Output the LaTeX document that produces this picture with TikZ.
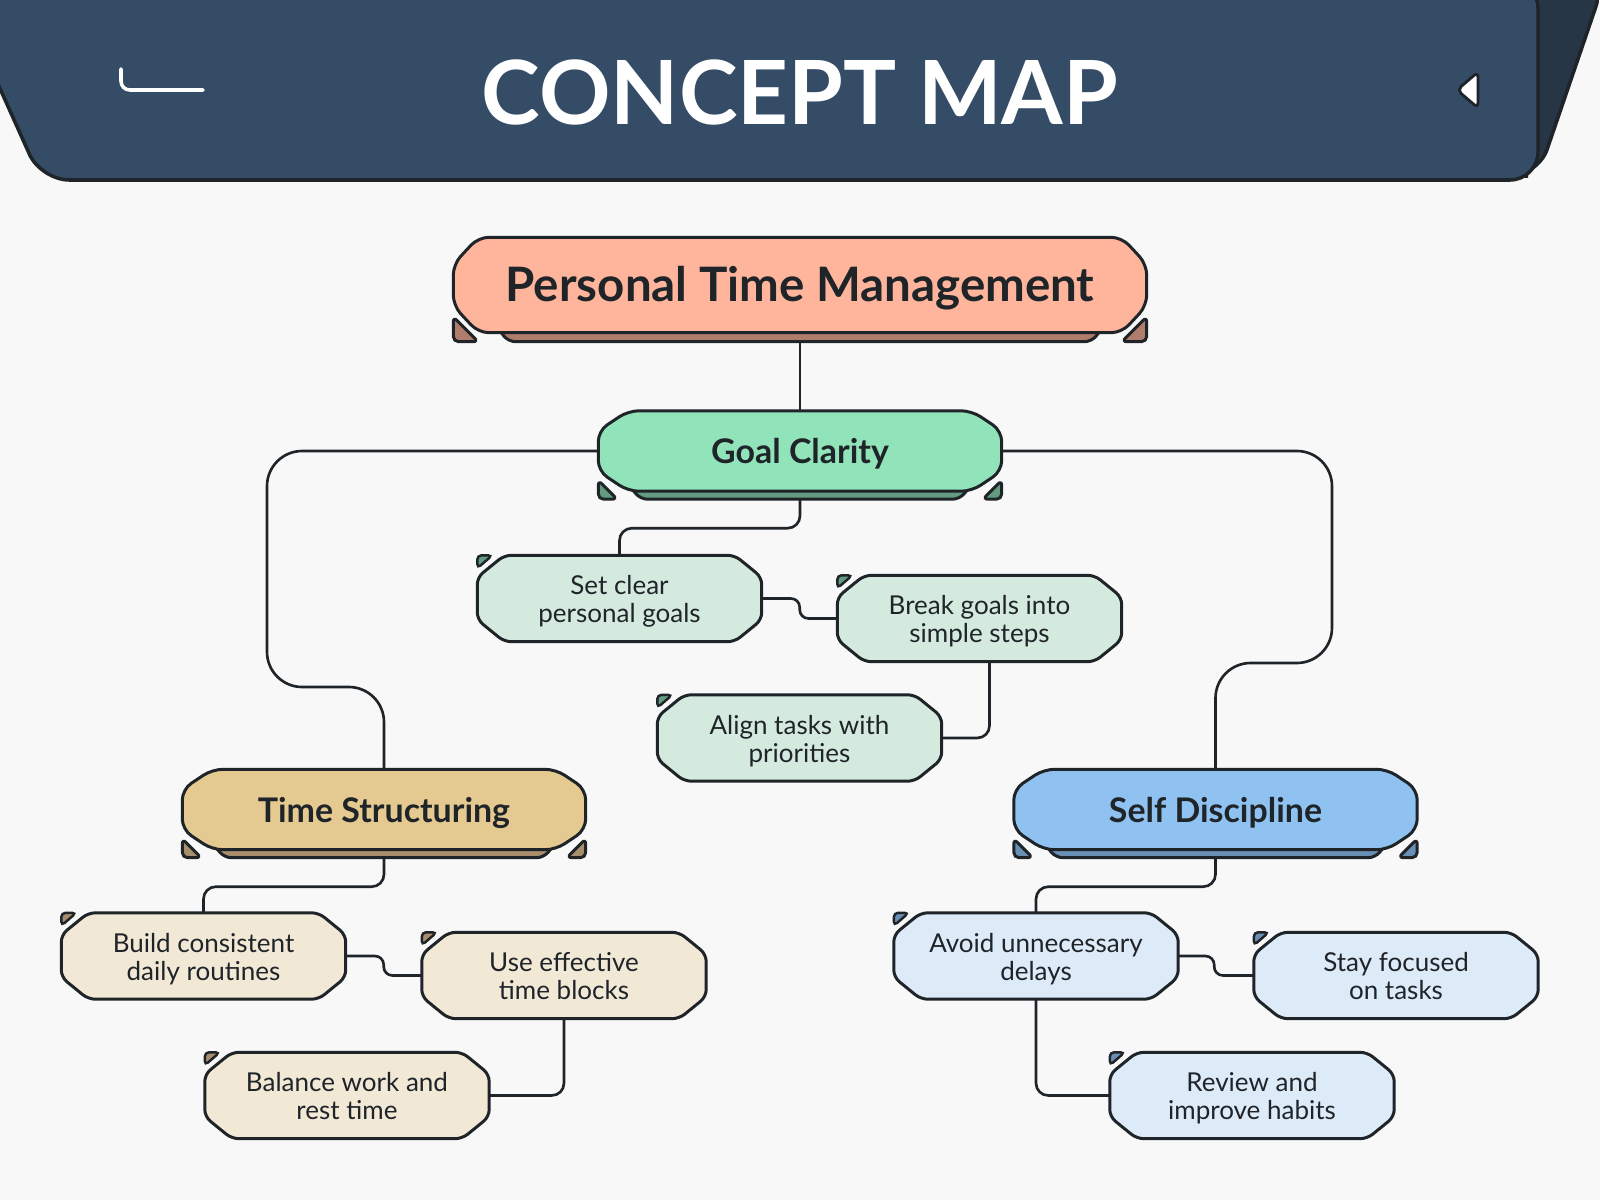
\documentclass[tikz,border=0pt]{standalone}
\usepackage{fontspec}
\setmainfont{Lato}
\usetikzlibrary{calc,positioning}
\definecolor{paper}{HTML}{F8F8F8}
\definecolor{ink}{HTML}{1F2429}
\definecolor{banner}{HTML}{344C66}
\definecolor{bannerside}{HTML}{263647}
\definecolor{hubfill}{HTML}{FFB59C}
\definecolor{hubdark}{HTML}{B07C6B}
\definecolor{goalfill}{HTML}{91E3BA}
\definecolor{goaldark}{HTML}{639C80}
\definecolor{goalleaf}{HTML}{D5EADF}
\definecolor{timefill}{HTML}{E4C990}
\definecolor{timedark}{HTML}{A88E6C}
\definecolor{timeleaf}{HTML}{F2E8D6}
\definecolor{selffill}{HTML}{90C2F1}
\definecolor{selfdark}{HTML}{6A8FB5}
\definecolor{selfleaf}{HTML}{DDEAF8}

\pgfdeclarelayer{back}
\pgfdeclarelayer{mid}
\pgfsetlayers{back,mid,main}

% cut-corner outline round a node: name, fill, x cut, y cut, rounding
\newcommand\octo[5]{%
  \path[draw=ink, line width=0.85pt, fill=#2, rounded corners=#5]
    ($(#1.north west)+(#3,0)$) -- ($(#1.north east)+(-#3,0)$)
    -- ($(#1.north east)+(0,#4)$) -- ($(#1.south east)+(0,-#4)$)
    -- ($(#1.south east)+(-#3,0)$) -- ($(#1.south west)+(#3,0)$)
    -- ($(#1.south west)+(0,-#4)$) -- ($(#1.north west)+(0,#4)$) -- cycle;}
% darker strip under a node: name, colour, inset, depth
\newcommand\shelf[4]{%
  \path[draw=ink, line width=0.85pt, fill=#2, rounded corners=2pt]
    ($(#1.south west)+(#3-18,-14)$) -- ($(#1.south west)+(#3,#4)$)
    -- ($(#1.south east)+(-#3,#4)$) -- ($(#1.south east)+(-#3+18,-14)$) -- cycle;}
% corner wedges: name, colour, rise, drop
\newcommand\ears[4]{%
  \path[draw=ink, line width=0.85pt, fill=#2, rounded corners=1.5pt]
    ($(#1.south west)+(0,-#3)$) -- ($(#1.south west)+(0,#4)$)
    -- ($(#1.south west)+(#3+#4,#4)$) -- cycle
    ($(#1.south east)+(0,-#3)$) -- ($(#1.south east)+(0,#4)$)
    -- ($(#1.south east)+(-#3-#4,#4)$) -- cycle;}
% small tab at top left of a leaf
\newcommand\flag[2]{%
  \path[draw=ink, line width=0.7pt, fill=#2, rounded corners=1.2pt]
    (#1.north west) -- ($(#1.north west)+(15,0)$)
    -- ($(#1.north west)+(0,13)$) -- cycle;}

\begin{document}
\begin{tikzpicture}[x=0.1mm, y=-0.1mm,
  hub/.style={minimum width=69.2mm, minimum height=9.4mm, inner sep=0pt,
              text height=11pt, text depth=1.4pt,
              text=ink, font=\fontsize{13.5}{16}\selectfont\bfseries},
  topic/.style={minimum width=40.2mm, minimum height=7.9mm, inner sep=0pt,
                text height=8.1pt, text depth=0.9pt,
                text=ink, font=\fontsize{9.65}{12}\selectfont\bfseries},
  leaf/.style={minimum width=28.3mm, minimum height=8.5mm, inner sep=0pt,
               text height=15.2pt, text depth=1.4pt,
               align=center, text=ink, font=\fontsize{7.4}{7.9}\selectfont},
  link/.style={draw=ink, line width=0.75pt, rounded corners=3.5pt},
  trunk/.style={link, rounded corners=10pt},
  jog/.style={link, rounded corners=2.5pt},
]
  \useasboundingbox (0,0) rectangle (1600,1200);

  \node[text=white, anchor=base, font=\fontsize{25.2}{30}\selectfont\bfseries]
    (title) at (800,125) {CONCEPT MAP};

  \node[hub] (ptm) at (800,285) {Personal Time Management};
  \node[topic] (goal) at (800,451) {Goal Clarity};
  \node[topic] (time) at (384,809.5) {Time Structuring};
  \node[topic] (self) at (1215.5,809.5) {Self Discipline};

  \node[leaf] (clear) at (619.5,598.5) {Set clear\\personal goals};
  \node[leaf] (chunk) at (979.5,618.5) {Break goals into\\simple steps};
  \node[leaf] (prior) at (799.5,738) {Align tasks with\\priorities};
  \node[leaf] (routine) at (203.5,956) {Build consistent\\daily routines};
  \node[leaf] (blocks) at (564,975.5) {Use effective\\time blocks};
  \node[leaf] (rest) at (347,1095.5) {Balance work and\\rest time};
  \node[leaf] (delay) at (1036,956) {Avoid unnecessary\\delays};
  \node[leaf] (focus) at (1396,975.5) {Stay focused\\on tasks};
  \node[leaf] (habit) at (1252,1095.5) {Review and\\improve habits};

  \begin{pgfonlayer}{back}
    \fill[paper] (0,0) rectangle (1600,1200);
    % banner
    \path[fill=bannerside, draw=ink, line width=1pt, rounded corners=8pt]
      (1500,-20) -- (1605,-20) -- (1538,176) -- (1500,176) -- cycle;
    \path[fill=banner, draw=ink, line width=1pt, rounded corners=8pt]
      (-20,-20) -- (-20,44) -- (41,180) -- (1538,180) -- (1538,-20) -- cycle;
    \draw[white, line width=1pt, line cap=round, rounded corners=2.5pt]
      (121,69) -- (121,90) -- (203,90);
    \path[fill=white, draw=ink, line width=0.8pt, rounded corners=1.5pt]
      (1478,72) -- (1478,108) -- (1457,90) -- cycle;

    % connectors
    \draw[link] (ptm.south) -- (goal.north);
    \draw[trunk] (goal.west) -| (267,687) -| (time.north);
    \draw[trunk] (goal.east) -| (1332,663) -| (self.north);
    \draw[link] (goal.south) -- ++(0,37) -| (clear.north);
    \draw[jog] (clear.east) -- ++(38,0) |- (chunk.west);
    \draw[link] ($(chunk.south)+(10,0)$) |- (prior.east);
    \draw[link] (time.south) -- ++(0,37) -| (routine.north);
    \draw[jog] (routine.east) -- ++(38,0) |- (blocks.west);
    \draw[link] (blocks.south) |- (rest.east);
    \draw[link] (self.south) -- ++(0,37) -| (delay.north);
    \draw[jog] (delay.east) -- ++(36,0) |- (focus.west);
    \draw[link] (delay.south) |- (habit.west);
  \end{pgfonlayer}

  \begin{pgfonlayer}{mid}
    \shelf{ptm}{hubdark}{55}{9}
    \octo{ptm}{hubfill}{25}{27}{3pt}
    \ears{ptm}{hubdark}{16}{9}

    \shelf{goal}{goaldark}{42}{8}
    \octo{goal}{goalfill}{30}{20}{3pt}
    \ears{goal}{goaldark}{11}{8}
    \shelf{time}{timedark}{42}{8}
    \octo{time}{timefill}{30}{20}{3pt}
    \ears{time}{timedark}{11}{8}
    \shelf{self}{selfdark}{42}{8}
    \octo{self}{selffill}{30}{20}{3pt}
    \ears{self}{selfdark}{11}{8}

    \foreach \n/\f/\d in {clear/goalleaf/goaldark, chunk/goalleaf/goaldark,
        prior/goalleaf/goaldark, routine/timeleaf/timedark,
        blocks/timeleaf/timedark, rest/timeleaf/timedark,
        delay/selfleaf/selfdark, focus/selfleaf/selfdark,
        habit/selfleaf/selfdark}
      {\octo{\n}{\f}{27}{22}{2pt}
       \flag{\n}{\d}}
  \end{pgfonlayer}
\end{tikzpicture}
\end{document}
